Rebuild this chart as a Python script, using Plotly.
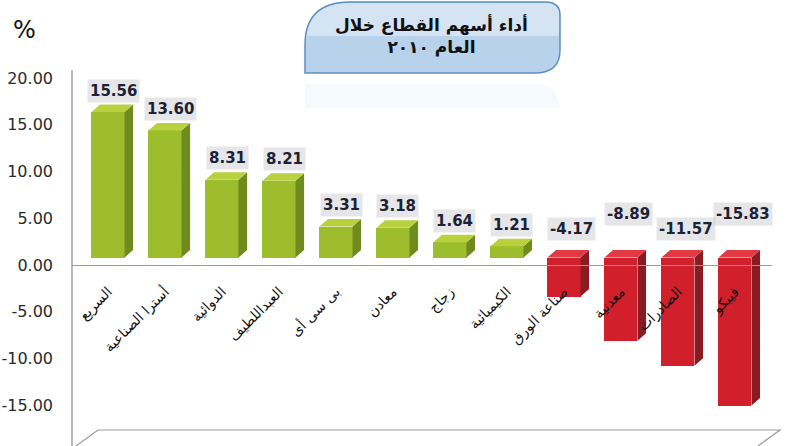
import plotly.graph_objects as go

categories = ["السريع", "أسترا الصناعية", "الدوائية", "العبداللطيف", "بى سى أى", "معادن",
              "زجاج", "الكيميائية", "صناعة الورق", "معدنية", "الصادرات", "فيبكو"]
values = [15.56, 13.60, 8.31, 8.21, 3.31, 3.18, 1.64, 1.21, -4.17, -8.89, -11.57, -15.83]
y_tick_vals = [-20, -15, -10, -5, 0, 5, 10, 15, 20]
y_tick_text = ["-20.00", "-15.00", "-10.00", "-5.00", "0.00", "5.00", "10.00", "15.00", "20.00"]
title_lines = ["أداء أسهم القطاع خلال", "العام ٢٠١٠"]

W, H = 792, 446
ML, MR, MT, MB = 72, 20, 70, 0
PW, PH = W - ML - MR, H - MT - MB
Y0, Y1 = -19.36, 20.86

# 3D bar geometry (in axis units)
BW = 0.58       # front face width
BASE = 0.8      # front face base (floor sits slightly above zero)
DX, DY = 0.15, 0.8  # depth offset


def px(x):
    return (x - ML) / PW


def py(y):
    return (H - MB - y) / PH


idx = list(range(len(categories)))
pos = [v >= 0 for v in values]

fig = go.Figure()


def face_trace(xs_list, ys_list, color):
    X, Y = [], []
    for xs, ys in zip(xs_list, ys_list):
        X += xs + [xs[0], None]
        Y += ys + [ys[0], None]
    return go.Scatter(x=X, y=Y, mode="lines", fill="toself", fillcolor=color,
                      line=dict(width=0, color=color), hoverinfo="skip", showlegend=False)


for is_pos, top_c, side_c in [(True, "#b9d13e", "#6f8b1d"), (False, "#e23a45", "#8a1b22")]:
    tops_x, tops_y, sides_x, sides_y = [], [], [], []
    for i, v, p in zip(idx, values, pos):
        if p != is_pos:
            continue
        lo, hi = min(BASE, BASE + v), max(BASE, BASE + v)
        l, r = i - BW / 2, i + BW / 2
        tops_x.append([l, r, r + DX, l + DX])
        tops_y.append([hi, hi, hi + DY, hi + DY])
        sides_x.append([r, r + DX, r + DX, r])
        sides_y.append([lo, lo + DY, hi + DY, hi])
    fig.add_trace(face_trace(sides_x, sides_y, side_c))
    fig.add_trace(face_trace(tops_x, tops_y, top_c))

front_col = ["#9dbd2c" if p else "#d21f2c" for p in pos]
fig.add_trace(go.Bar(x=idx, y=values, base=BASE, width=BW,
                     marker=dict(color=front_col, line=dict(width=0)),
                     showlegend=False))

annotations = []
neg_i = 0
for i, v in zip(idx, values):
    if v >= 0:
        ly, xs = v + 3.1, 5
    else:
        ly = 3.85 if neg_i % 2 == 0 else 5.45
        xs = 8
        neg_i += 1
    annotations.append(dict(x=i, y=ly, text="<b>%.2f</b>" % v, showarrow=False,
                            xshift=xs, xanchor="center", yanchor="middle",
                            font=dict(family="DejaVu Sans", size=15, color="#1c2233"),
                            bgcolor="rgba(200,200,205,0.45)", borderpad=2))

annotations.append(dict(xref="paper", yref="paper", x=px(432), y=py(36),
                        xanchor="center", yanchor="middle",
                        text="<b>" + title_lines[0] + "<br>" + title_lines[1] + "</b>",
                        showarrow=False, font=dict(family="DejaVu Sans", size=17, color="#111"),
                        align="center"))
annotations.append(dict(xref="paper", yref="paper", x=px(24), y=py(30), text="%",
                        xanchor="center", yanchor="middle",
                        showarrow=False, font=dict(family="DejaVu Sans", size=24, color="#111")))

shapes = [
    # faint reflection under title box
    dict(type="path", xref="paper", yref="paper",
         path=(f"M {px(305)},{py(84)} L {px(540)},{py(84)} Q {px(553)},{py(84)} {px(558)},{py(100)} "
               f"L {px(560)},{py(108)} L {px(305)},{py(108)} Z"),
         fillcolor="rgba(225,236,248,0.3)", line=dict(width=0), layer="below"),
    # title box
    dict(type="path", xref="paper", yref="paper",
         path=(f"M {px(305)},{py(73)} L {px(305)},{py(45)} Q {px(305)},{py(2)} {px(350)},{py(2)} "
               f"L {px(545)},{py(2)} Q {px(560)},{py(2)} {px(560)},{py(15)} L {px(560)},{py(50)} "
               f"Q {px(560)},{py(73)} {px(535)},{py(73)} Z"),
         fillcolor="#b8d2ec", line=dict(color="#5f8fc0", width=1.5), layer="above"),
    dict(type="path", xref="paper", yref="paper",
         path=(f"M {px(306)},{py(36)} L {px(306)},{py(45)} Q {px(306)},{py(3)} {px(350)},{py(3)} "
               f"L {px(545)},{py(3)} Q {px(559)},{py(3)} {px(559)},{py(15)} L {px(559)},{py(36)} Z"),
         fillcolor="rgba(255,255,255,0.4)", line=dict(width=0), layer="above"),
    # floor
    dict(type="path", xref="paper", yref="paper",
         path=(f"M {px(76)},{py(446)} L {px(98)},{py(430)} L {px(780)},{py(430)} L {px(758)},{py(446)}"),
         line=dict(color="#9a9a9a", width=1.2), layer="below"),
    # vertical axis line
    dict(type="line", xref="paper", yref="paper", x0=0, x1=0, y0=0, y1=1,
         line=dict(color="#8c8c8c", width=1.2)),
]

fig.update_layout(
    width=W, height=H, margin=dict(l=ML, r=MR, t=MT, b=MB, autoexpand=False),
    paper_bgcolor="white", plot_bgcolor="white",
    bargap=0,
    annotations=annotations, shapes=shapes,
    xaxis=dict(range=[-0.632, 11.65], anchor="free", position=py(265),
               tickvals=idx, ticktext=categories,
               showline=True, linecolor="#9a9a9a", linewidth=1.2, showgrid=False,
               zeroline=False, automargin=False,
               tickangle=-45, ticks="", ticklabelstandoff=12,
               tickfont=dict(family="DejaVu Sans", size=14, color="#111")),
    yaxis=dict(range=[Y0, Y1], tickvals=y_tick_vals, ticktext=y_tick_text,
               showgrid=False, zeroline=False, showline=False, ticks="",
               ticklabelstandoff=18, automargin=False,
               tickfont=dict(family="DejaVu Sans", size=16, color="#2a2a2a")),
)

fig.write_html("out.html", config={"displayModeBar": False},
               post_script="document.body.style.margin='0';document.body.style.overflow='hidden';")
